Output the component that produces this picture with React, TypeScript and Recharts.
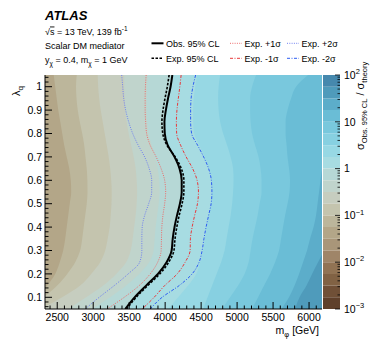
import React from "react";
import {
  Area,
  Bar,
  BarChart,
  CartesianGrid,
  ComposedChart,
  Line,
  XAxis,
  YAxis,
} from "recharts";

const FONT = "'Liberation Sans', Arial, Helvetica, sans-serif";

// lambda_q rows, top to bottom
const lambdaQ = [1.05, 1.0, 0.95, 0.9, 0.85, 0.8, 0.75, 0.7, 0.65, 0.6, 0.55, 0.5, 0.45, 0.4, 0.35, 0.3, 0.25, 0.2, 0.15, 0.1, 0.05];

// 95% CL limit contours, m_phi [GeV] at each lambda_q
const obsLimit = [4100, 4075, 4040, 4010, 3990, 3995, 4035, 4130, 4200, 4230, 4230, 4205, 4165, 4130, 4105, 4090, 4020, 3900, 3735, 3575, 3445];
const expLimit = [4055, 4030, 3998, 3970, 3955, 3967, 4025, 4140, 4225, 4260, 4260, 4235, 4195, 4162, 4137, 4122, 4050, 3925, 3757, 3597, 3465];
const expPlus1 = [3736, 3726, 3722, 3722, 3729, 3743, 3792, 3875, 3944, 3993, 4007, 3993, 3969, 3954, 3949, 3944, 3896, 3792, 3639, 3431, 3194];
const expMinus1 = [4222, 4204, 4183, 4164, 4156, 4160, 4215, 4292, 4382, 4444, 4463, 4449, 4410, 4375, 4351, 4347, 4278, 4167, 3993, 3847, 3681];
const expPlus2 = [3396, 3410, 3424, 3451, 3493, 3549, 3625, 3715, 3778, 3813, 3813, 3771, 3715, 3681, 3676, 3676, 3646, 3486, 3292, 3083, 2889];
const expMinus2 = [4424, 4386, 4361, 4354, 4354, 4368, 4451, 4535, 4604, 4642, 4650, 4639, 4604, 4569, 4539, 4514, 4472, 4375, 4194, 3958, 3792];

// edges of the filled sigma_obs/sigma_theory contours (log10 level in the name)
const levelM125 = [2451, 2472, 2493, 2514, 2542, 2569, 2597, 2632, 2667, 2688, 2694, 2674, 2653, 2632, 2611, 2583, 2535, 2472, 2361, 2236, 2125];
const levelM100 = [2771, 2761, 2768, 2785, 2813, 2847, 2875, 2893, 2910, 2919, 2921, 2910, 2889, 2868, 2847, 2819, 2750, 2639, 2500, 2319, 2153];
const levelM075 = [3063, 3069, 3083, 3104, 3132, 3160, 3188, 3215, 3236, 3250, 3257, 3254, 3243, 3229, 3201, 3167, 3097, 2972, 2819, 2569, 2264];
const levelM050 = [3431, 3431, 3438, 3444, 3465, 3493, 3528, 3563, 3590, 3604, 3611, 3604, 3590, 3569, 3549, 3521, 3458, 3319, 3139, 2903, 2653];
const levelM025 = [3757, 3750, 3743, 3743, 3750, 3771, 3813, 3861, 3896, 3917, 3924, 3910, 3889, 3868, 3854, 3840, 3778, 3639, 3458, 3236, 2986];
const levelP025 = [4444, 4417, 4396, 4389, 4389, 4403, 4472, 4549, 4611, 4646, 4653, 4639, 4611, 4576, 4549, 4528, 4486, 4431, 4319, 4181, 4042];
const levelP050 = [4764, 4743, 4736, 4743, 4764, 4806, 4861, 4910, 4944, 4951, 4944, 4931, 4910, 4882, 4854, 4826, 4778, 4715, 4653, 4590, 4528];
const levelP075 = [5264, 5208, 5181, 5181, 5188, 5208, 5250, 5299, 5326, 5340, 5340, 5313, 5285, 5250, 5215, 5188, 5160, 5104, 5014, 4903, 4792];
const levelP100 = [5986, 5819, 5750, 5701, 5674, 5674, 5688, 5701, 5722, 5736, 5729, 5701, 5667, 5639, 5611, 5583, 5528, 5458, 5375, 5292, 5208];
const levelP125 = [6500, 6500, 6500, 6500, 6500, 6500, 6450, 6300, 6188, 6160, 6139, 6118, 6097, 6063, 6014, 5972, 5917, 5861, 5799, 5722, 5618];
const levelP150 = [6500, 6500, 6500, 6500, 6500, 6500, 6500, 6500, 6500, 6500, 6500, 6500, 6450, 6350, 6270, 6210, 6125, 6042, 5965, 5868, 5806];

// colour scale: 20 bands of 0.25 in log10, from 1e-3 to 1e2
const bandEdges = [-3, -2.75, -2.5, -2.25, -2, -1.75, -1.5, -1.25, -1, -0.75, -0.5, -0.25, 0, 0.25, 0.5, 0.75, 1, 1.25, 1.5, 1.75, 2];
const bandColors = [
  "#5f402b", "#705037", "#816244", "#917354", "#9f8568",
  "#a99679", "#b3a688", "#bcb69b", "#c4c4ae", "#c6cdbf",
  "#c0d4cc", "#b6d8d6", "#a7dce2", "#97d8e4", "#87d0e1",
  "#79c8dd", "#6abdd6", "#5cadca", "#4f9bbb", "#4688ad",
];

const xMajorTicks = [2500, 3000, 3500, 4000, 4500, 5000, 5500, 6000];
const yMajorTicks = [0.1, 0.2, 0.3, 0.4, 0.5, 0.6, 0.7, 0.8, 0.9, 1];
const zMajorTicks = [-3, -2, -1, 0, 1, 2];

// painted right to left: each area covers everything left of its edge
const contours = [
  { key: "p150", values: levelP150, band: 17 },
  { key: "p125", values: levelP125, band: 16 },
  { key: "p100", values: levelP100, band: 15 },
  { key: "p075", values: levelP075, band: 14 },
  { key: "p050", values: levelP050, band: 13 },
  { key: "p025", values: levelP025, band: 12 },
  { key: "l000", values: obsLimit, band: 11 },
  { key: "m025", values: levelM025, band: 10 },
  { key: "m050", values: levelM050, band: 9 },
  { key: "m075", values: levelM075, band: 8 },
  { key: "m100", values: levelM100, band: 7 },
  { key: "m125", values: levelM125, band: 6 },
];

const limitLines = [
  { key: "obs", label: "Obs. 95% CL", values: obsLimit, color: "#000000", width: 2, dash: undefined, col: 0, row: 0 },
  { key: "exp", label: "Exp. 95% CL", values: expLimit, color: "#000000", width: 1.6, dash: "2.5 1.5", col: 0, row: 1 },
  { key: "p1", label: "Exp. +1σ", values: expPlus1, color: "#ee6a6a", width: 1, dash: "1 1.3", col: 1, row: 0 },
  { key: "m1", label: "Exp. -1σ", values: expMinus1, color: "#e8383a", width: 1, dash: "3 1.5 1 1.5", col: 1, row: 1 },
  { key: "p2", label: "Exp. +2σ", values: expPlus2, color: "#6f7ff0", width: 1, dash: "1 1.3", col: 2, row: 0 },
  { key: "m2", label: "Exp. -2σ", values: expMinus2, color: "#2c5cf2", width: 1, dash: "3 1.5 1 1.5", col: 2, row: 1 },
];

const rows = lambdaQ.map((lambda, i) => {
  const row: Record<string, number> = { lambda };
  contours.forEach((c) => (row[c.key] = c.values[i]));
  limitLines.forEach((l) => (row[l.key] = l.values[i]));
  return row;
});

const xTicks: number[] = [];
for (let m = 2400; m <= 6100; m += 100) xTicks.push(m);
const yTicks: number[] = [];
for (let k = 3; k <= 52; k++) yTicks.push(Math.round(k * 2) / 100);
const zTicks: number[] = [];
zMajorTicks.forEach((d) => {
  zTicks.push(d);
  if (d < 2) for (let k = 2; k <= 9; k++) zTicks.push(d + Math.log10(k));
});

// colour bar as one stacked column, growing both ways from 1e0
const cbRow: Record<string, number | string> = { name: "z" };
const cbOrder: number[] = [];
bandColors.forEach((_, i) => {
  const lo = bandEdges[i];
  const hi = bandEdges[i + 1];
  cbRow[`b${i}`] = lo >= 0 ? hi - lo : lo - hi;
});
for (let i = 12; i < 20; i++) cbOrder.push(i);
for (let i = 11; i >= 0; i--) cbOrder.push(i);

const isMajorY = (v: number) => yMajorTicks.some((t) => Math.abs(t - v) < 1e-6);

function XTick({ x, y, payload }: any) {
  const major = xMajorTicks.includes(payload.value);
  return (
    <g>
      <line x1={x} x2={x} y1={y} y2={y - (major ? 7 : 3.5)} stroke="#000" strokeWidth={1} />
      {major && (
        <text x={x} y={y + 12} textAnchor="middle" fontSize={10.5} fontFamily={FONT} fill="#000">
          {payload.value}
        </text>
      )}
    </g>
  );
}

function YTick({ x, y, payload }: any) {
  const major = isMajorY(payload.value);
  return (
    <g>
      <line x1={x} x2={x + (major ? 7 : 3.5)} y1={y} y2={y} stroke="#000" strokeWidth={1} />
      {major && (
        <text x={x - 3} y={y + 3.7} textAnchor="end" fontSize={10.5} fontFamily={FONT} fill="#000">
          {payload.value === 1 ? "1" : payload.value.toFixed(1)}
        </text>
      )}
    </g>
  );
}

function ZTick({ x, y, payload }: any) {
  const v = payload.value;
  const major = zMajorTicks.some((t) => Math.abs(t - v) < 1e-9);
  const d = Math.round(v);
  return (
    <g>
      <line x1={x} x2={x - (major ? 5 : 2.5)} y1={y} y2={y} stroke="#000" strokeWidth={0.8} />
      {major && (
        <text x={x + 4} y={y + 3.7} fontSize={10.5} fontFamily={FONT} fill="#000">
          {d === 0 ? "1" : "10"}
          {d !== 0 && d !== 1 && (
            <tspan dy={-4.5} fontSize={7.5}>
              {d < 0 ? `\u2212${-d}` : d}
            </tspan>
          )}
        </text>
      )}
    </g>
  );
}

const legendX = [151.5, 230, 287];
const legendY = [43.3, 58.3];

export default function App() {
  return (
    <div style={{ position: "absolute", left: 0, top: 0, width: 374, height: 344, background: "#fff" }}>
      <div style={{ position: "absolute", left: 0, top: 0 }}>
        <ComposedChart
          width={374}
          height={344}
          layout="vertical"
          data={rows}
          margin={{ top: 75, right: 52, bottom: 0, left: 0 }}
        >
          <CartesianGrid horizontal={false} vertical={false} fill={bandColors[18]} />
          {contours.map((c) => (
            <Area
              key={c.key}
              dataKey={c.key}
              type="monotone"
              baseValue="dataMin"
              stroke="none"
              fill={bandColors[c.band]}
              fillOpacity={1}
              dot={false}
              activeDot={false}
              isAnimationActive={false}
            />
          ))}
          {limitLines.map((l) => (
            <Line
              key={l.key}
              dataKey={l.key}
              type="monotone"
              stroke={l.color}
              strokeWidth={l.width}
              strokeDasharray={l.dash}
              dot={false}
              activeDot={false}
              isAnimationActive={false}
            />
          ))}
          <XAxis
            type="number"
            domain={[2330, 6180]}
            allowDataOverflow
            ticks={xTicks}
            interval={0}
            height={35}
            tickSize={0}
            tickMargin={0}
            tickLine={false}
            axisLine={{ stroke: "#000" }}
            tick={<XTick />}
          />
          <YAxis
            type="number"
            dataKey="lambda"
            domain={[0.05, 1.05]}
            reversed
            allowDataOverflow
            ticks={yTicks}
            interval={0}
            width={45}
            tickSize={0}
            tickMargin={0}
            tickLine={false}
            axisLine={{ stroke: "#000" }}
            tick={<YTick />}
          />
        </ComposedChart>
      </div>

      <div style={{ position: "absolute", left: 0, top: 0 }}>
        <BarChart
          width={374}
          height={344}
          data={[cbRow]}
          margin={{ top: 75, right: 0, bottom: 35, left: 323 }}
          stackOffset="sign"
          barCategoryGap={0}
        >
          {cbOrder.map((i) => (
            <Bar key={i} dataKey={`b${i}`} stackId="z" fill={bandColors[i]} isAnimationActive={false} />
          ))}
          <XAxis dataKey="name" hide />
          <YAxis
            orientation="right"
            type="number"
            domain={[-3, 2]}
            allowDataOverflow
            ticks={zTicks}
            interval={0}
            width={34}
            tickSize={0}
            tickMargin={0}
            tickLine={false}
            axisLine={false}
            tick={<ZTick />}
          />
        </BarChart>
      </div>

      <svg
        width={374}
        height={344}
        style={{ position: "absolute", left: 0, top: 0, pointerEvents: "none" }}
        fontFamily={FONT}
      >
        <text x={45} y={20} fontSize={13} fontWeight="bold" fontStyle="italic">ATLAS</text>
        <text x={45} y={34.5} fontSize={9}>
          √<tspan textDecoration="overline">s</tspan> = 13 TeV, 139 fb
          <tspan dy={-3.5} fontSize={6.5}>-1</tspan>
        </text>
        <text x={45} y={48.5} fontSize={9}>Scalar DM mediator</text>
        <text x={45} y={62.5} fontSize={9}>
          y<tspan dy={3} fontSize={6.5}>χ</tspan>
          <tspan dy={-3}> = 0.4, m</tspan>
          <tspan dy={3} fontSize={6.5}>χ</tspan>
          <tspan dy={-3}> = 1 GeV</tspan>
        </text>

        {limitLines.map((l) => (
          <g key={l.key}>
            <line
              x1={legendX[l.col]}
              x2={legendX[l.col] + 12}
              y1={legendY[l.row]}
              y2={legendY[l.row]}
              stroke={l.color}
              strokeWidth={l.width}
              strokeDasharray={l.dash}
            />
            <text x={legendX[l.col] + 14.5} y={legendY[l.row] + 3.2} fontSize={9}>
              {l.label}
            </text>
          </g>
        ))}

        <text transform="translate(19.5,96) rotate(-90)" fontSize={11}>
          λ<tspan dy={3} fontSize={8}>q</tspan>
        </text>

        <text x={319} y={334} textAnchor="end" fontSize={10.5}>
          m<tspan dy={2.5} fontSize={7.5}>φ</tspan>
          <tspan dy={-2.5}> [GeV]</tspan>
        </text>

        <text transform="translate(364,150) rotate(-90)" fontSize={11}>
          σ<tspan dy={3} fontSize={7.5}>Obs. 95% CL</tspan>
          <tspan dy={-3}> / σ</tspan>
          <tspan dy={3} fontSize={7.5}>theory</tspan>
        </text>
      </svg>
    </div>
  );
}
